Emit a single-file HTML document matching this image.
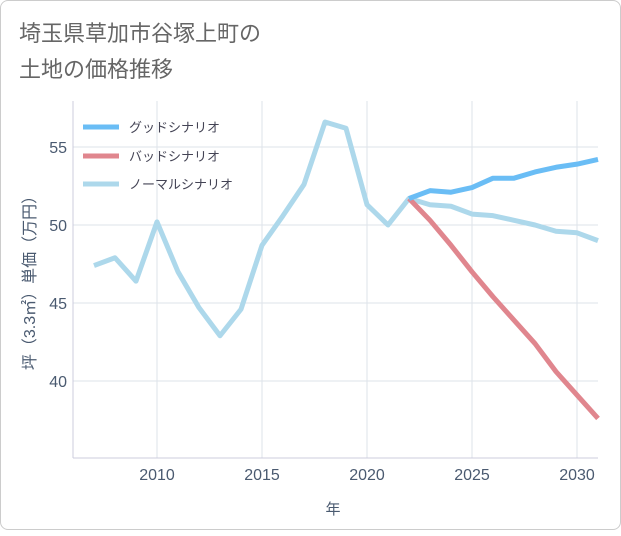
<!DOCTYPE html>
<html><head><meta charset="utf-8"><style>
body{margin:0;background:#fff;}
.card{position:absolute;left:0;top:0;width:619px;height:528px;border:1px solid #ccc;border-radius:8px;background:#fff;}
text{font-family:"Liberation Sans","Noto Sans CJK JP",sans-serif;}
</style></head><body>
<div class="card">
<svg id="chart" width="621" height="530">
<text x="18" y="40" font-size="22" fill="#666">埼玉県草加市谷塚上町の</text>
<text x="18" y="76" font-size="22" fill="#666">土地の価格推移</text>
<g id="grid"></g><g id="series"></g><g id="legend"></g>
<text x="332" y="513" font-size="15" fill="#4a5a70" text-anchor="middle">年</text>
<text transform="translate(34,278) rotate(-90)" font-size="16" fill="#4a5a70" text-anchor="middle">坪（3.3㎡）単価（万円）</text>
</svg></div>
<script>
const years=[2007,2008,2009,2010,2011,2012,2013,2014,2015,2016,2017,2018,2019,2020,2021,2022,2023,2024,2025,2026,2027,2028,2029,2030,2031];
const normal=[47.4,47.9,46.4,50.2,47.0,44.7,42.9,44.6,48.7,50.6,52.6,56.6,56.2,51.3,50.0,51.7,51.3,51.2,50.7,50.6,50.3,50.0,49.6,49.5,49.0];
const futureYears=[2022,2023,2024,2025,2026,2027,2028,2029,2030,2031];
const good=[51.7,52.2,52.1,52.4,53.0,53.0,53.4,53.7,53.9,54.2];
const bad=[51.7,50.3,48.7,47.0,45.4,43.9,42.4,40.6,39.1,37.6];
const xTicks=[2010,2015,2020,2025,2030];
const yTicks=[40,45,50,55];
const X=y=>72+(y-2006)*21;
const Y=v=>224-(v-50)*15.6;
const NS="http://www.w3.org/2000/svg";
function mk(t,a,p){const e=document.createElementNS(NS,t);for(const k in a)e.setAttribute(k,a[k]);p.appendChild(e);return e;}
const grid=document.getElementById('grid');
xTicks.forEach(t=>{const l=mk('line',{x1:X(t),x2:X(t),y1:100,y2:457,stroke:'#dde3ea'},grid);


const tx=mk('text',{x:X(t),y:479,'font-size':16,fill:'#4a5a70','text-anchor':'middle'},grid);tx.textContent=t;

});
yTicks.forEach(t=>{const l=mk('line',{x1:72,x2:597,y1:Y(t),y2:Y(t),stroke:'#dde3ea'},grid);


const tx=mk('text',{x:66,y:Y(t)+6,'font-size':16,fill:'#4a5a70','text-anchor':'end'},grid);tx.textContent=t;

});
const ax=mk('line',{x1:72,x2:72,y1:100,y2:457,stroke:'#ccd'},grid);


const ax2=mk('line',{x1:72,x2:597,y1:457,y2:457,stroke:'#ccd'},grid);


const S=document.getElementById('series');
function line(xs,vs,c,n){const p=mk('polyline',{points:xs.map((x,i)=>X(x)+','+Y(vs[i])).join(' '),fill:'none',stroke:c,'stroke-width':5,'stroke-linejoin':'round'},S);

}
line(years,normal,'#add8eb','normal-scenario-line');
line(futureYears,bad,'#e0868e','bad-scenario-line');
line(futureYears,good,'#6abdf5','good-scenario-line');
const L=document.getElementById('legend');
[['グッドシナリオ','#6abdf5',126],['バッドシナリオ','#e0868e',155],['ノーマルシナリオ','#add8eb',183]].forEach(([t,c,y])=>{
const g=mk('g',{},L);


mk('line',{x1:82,x2:118,y1:y,y2:y,stroke:c,'stroke-width':5},g);
const tx=mk('text',{x:128,y:y+5,'font-size':13,fill:'#445'},g);tx.textContent=t;});
</script>
</body></html>
